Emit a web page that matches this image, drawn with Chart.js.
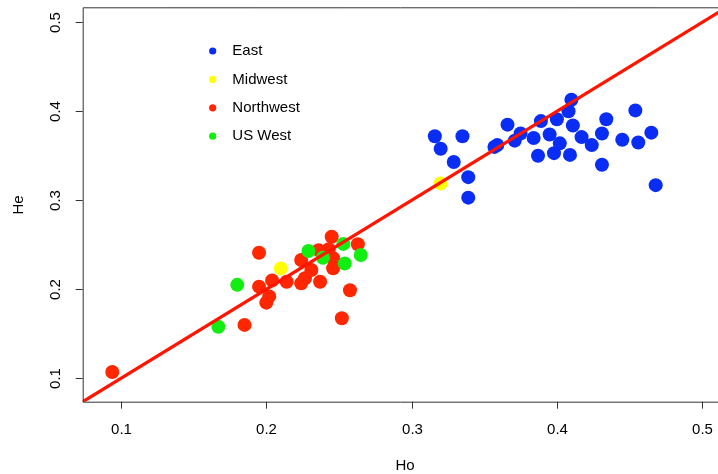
<!DOCTYPE html>
<html>
<head>
<meta charset="utf-8">
<script src="https://cdn.jsdelivr.net/npm/chart.js@4.4.1/dist/chart.umd.min.js"></script>
<style>
  html, body { margin: 0; padding: 0; background: #fff; overflow: hidden; }
  #wrap { width: 718px; height: 474px; overflow: hidden; }
</style>
</head>
<body>
<div id="wrap"><canvas id="plot" width="718" height="474"></canvas></div>
<script>
// Ho / He por región
const eastHo = [0.316, 0.320, 0.335, 0.329, 0.339, 0.339, 0.357, 0.359, 0.366, 0.375, 0.371,
                0.384, 0.389, 0.387, 0.395, 0.400, 0.402, 0.398, 0.408, 0.410, 0.411, 0.409,
                0.417, 0.424, 0.431, 0.434, 0.431, 0.445, 0.454, 0.456, 0.465, 0.468];
const eastHe = [0.372, 0.358, 0.372, 0.343, 0.326, 0.303, 0.360, 0.362, 0.385, 0.375, 0.367,
                0.370, 0.389, 0.350, 0.374, 0.391, 0.364, 0.353, 0.400, 0.413, 0.384, 0.351,
                0.371, 0.362, 0.375, 0.391, 0.340, 0.368, 0.401, 0.365, 0.376, 0.317];

const midwestHo = [0.320, 0.210];
const midwestHe = [0.319, 0.2235];

const northwestHo = [0.094, 0.185, 0.195, 0.195, 0.200, 0.202, 0.204, 0.214, 0.224, 0.224, 0.2266,
                     0.231, 0.236, 0.237, 0.243, 0.245, 0.246, 0.246, 0.2576, 0.252, 0.263];
const northwestHe = [0.107, 0.160, 0.241, 0.203, 0.185, 0.192, 0.210, 0.2085, 0.233, 0.2067, 0.2124,
                     0.2217, 0.244, 0.2085, 0.245, 0.259, 0.235, 0.2236, 0.199, 0.1674, 0.2506];

const usWestHo = [0.167, 0.180, 0.229, 0.239, 0.253, 0.254, 0.265];
const usWestHe = [0.158, 0.205, 0.243, 0.2355, 0.251, 0.229, 0.2385];

// recta He = Ho
const refX = [0, 0.6];
const refY = [0, 0.6];

const xTicks = [0.1, 0.2, 0.3, 0.4, 0.5];
const yTicks = [0.1, 0.2, 0.3, 0.4, 0.5];

const FONT = '"Liberation Sans", Arial, Helvetica, sans-serif';

const toPoints = (xs, ys) => xs.map((x, i) => ({ x: x, y: ys[i] }));

const groups = [
  { label: 'East', xs: eastHo, ys: eastHe, color: '#0a2df5', order: 4 },
  { label: 'Midwest', xs: midwestHo, ys: midwestHe, color: '#ffff00', order: 2 },
  { label: 'Northwest', xs: northwestHo, ys: northwestHe, color: '#ff2600', order: 3 },
  { label: 'US West', xs: usWestHo, ys: usWestHe, color: '#12ee12', order: 1 }
];

const datasets = groups.map(g => ({
  type: 'scatter',
  label: g.label,
  data: toPoints(g.xs, g.ys),
  backgroundColor: g.color,
  borderColor: g.color,
  borderWidth: 0,
  pointRadius: 7,
  pointHoverRadius: 7,
  order: g.order
}));

datasets.push({
  type: 'line',
  label: 'He = Ho',
  data: toPoints(refX, refY),
  borderColor: '#ff1500',
  borderWidth: 3.3,
  pointRadius: 0,
  fill: false,
  order: 0
});

// ejes, marco y leyenda al estilo R
const framePlugin = {
  id: 'rFrame',
  afterDraw(chart) {
    const ctx = chart.ctx;
    const a = chart.chartArea;
    const xs = chart.scales.x;
    const ys = chart.scales.y;
    ctx.save();

    ctx.strokeStyle = '#333';
    ctx.lineWidth = 1;
    ctx.beginPath();
    ctx.moveTo(a.right, a.top + 0.5);
    ctx.lineTo(a.left + 0.5, a.top + 0.5);
    ctx.lineTo(a.left + 0.5, a.bottom + 0.5);
    ctx.lineTo(a.right, a.bottom + 0.5);
    ctx.stroke();

    ctx.fillStyle = '#000';
    ctx.font = '15px ' + FONT;

    // eje x
    ctx.textAlign = 'center';
    ctx.textBaseline = 'middle';
    xTicks.forEach(v => {
      const px = Math.round(xs.getPixelForValue(v)) + 0.5;
      ctx.beginPath();
      ctx.moveTo(px, a.bottom);
      ctx.lineTo(px, a.bottom + 7);
      ctx.stroke();
      ctx.fillText(v.toFixed(1), px, 430);
    });

    // eje y (etiquetas giradas)
    yTicks.forEach(v => {
      const py = Math.round(ys.getPixelForValue(v)) + 0.5;
      ctx.beginPath();
      ctx.moveTo(a.left, py);
      ctx.lineTo(a.left - 7, py);
      ctx.stroke();
      ctx.save();
      ctx.translate(56, py);
      ctx.rotate(-Math.PI / 2);
      ctx.fillText(v.toFixed(1), 0, 0);
      ctx.restore();
    });

    // títulos
    ctx.fillText('Ho', 405, 466);
    ctx.save();
    ctx.translate(19, 205);
    ctx.rotate(-Math.PI / 2);
    ctx.fillText('He', 0, 0);
    ctx.restore();

    // leyenda
    ctx.textAlign = 'left';
    groups.forEach((g, i) => {
      const y = 51 + i * 28.4;
      ctx.fillStyle = g.color;
      ctx.beginPath();
      ctx.arc(212.7, y, 3.6, 0, Math.PI * 2);
      ctx.fill();
      ctx.fillStyle = '#000';
      ctx.fillText(g.label, 232.3, y);
    });

    ctx.restore();
  }
};

new Chart(document.getElementById('plot'), {
  data: { datasets: datasets },
  options: {
    responsive: false,
    animation: false,
    devicePixelRatio: 1,
    layout: { autoPadding: false, padding: { left: 82.7, top: 7.3, bottom: 72.3, right: 0 } },
    plugins: { legend: { display: false }, tooltip: { enabled: false } },
    scales: {
      x: { type: 'linear', display: false, min: 0.07364, max: 0.51088 },
      y: { type: 'linear', display: false, min: 0.07371, max: 0.51686 }
    }
  },
  plugins: [framePlugin]
});
</script>
</body>
</html>
